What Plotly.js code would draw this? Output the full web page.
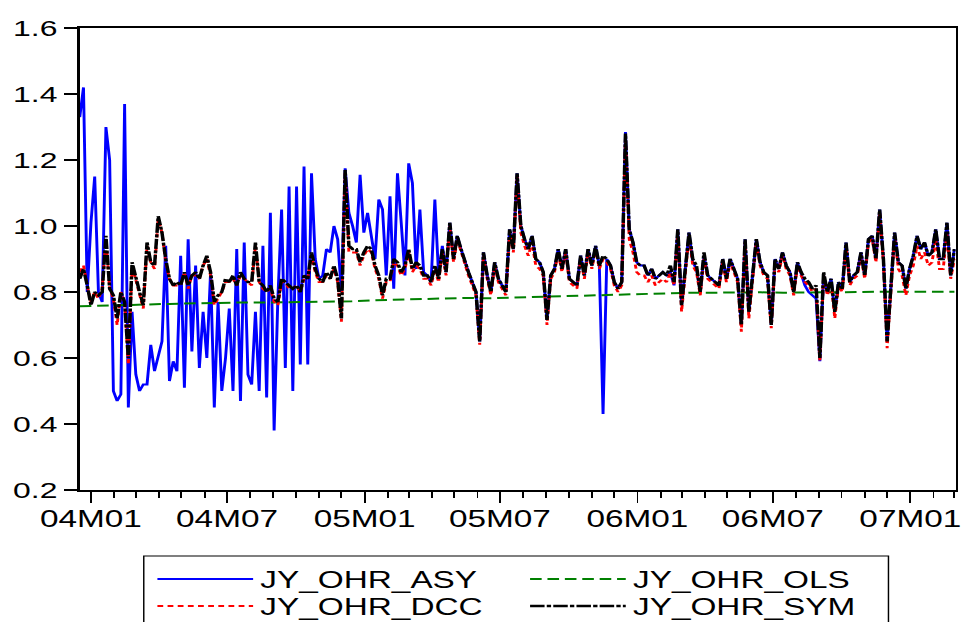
<!DOCTYPE html>
<html><head><meta charset="utf-8">
<script src="https://cdn.plot.ly/plotly-3.0.1.min.js"></script>
<style>
html,body{margin:0;padding:0;background:#fff;overflow:hidden;width:961px;height:622px;}
#wrap{width:961px;height:622px;overflow:hidden;position:relative;}
#chart{width:663px;height:622px;transform:scaleX(1.45);transform-origin:0 0;}
</style></head><body><div id="wrap"><div id="chart"></div></div>
<script>
// samples every 5 calendar days starting at startDate
const startDate = '2003-12-17';
const stepDays = 5;

const symValues = [
0.84,0.87,0.82,0.76,0.80,0.79,0.80,0.97,0.81,0.79,
0.72,0.80,0.77,0.60,0.89,0.84,0.80,0.76,0.95,0.89,
0.88,1.03,0.98,0.90,0.84,0.82,0.83,0.82,0.86,0.82,
0.85,0.86,0.84,0.88,0.91,0.86,0.77,0.79,0.80,0.84,
0.83,0.85,0.82,0.86,0.84,0.83,0.83,0.95,0.83,0.82,
0.80,0.82,0.78,0.77,0.84,0.83,0.82,0.81,0.82,0.80,
0.85,0.84,0.92,0.87,0.84,0.83,0.86,0.84,0.88,0.84,
0.72,1.17,0.94,0.93,0.93,0.89,0.92,0.94,0.93,0.88,
0.85,0.79,0.84,0.84,0.90,0.89,0.86,0.88,0.93,0.87,
0.89,0.88,0.85,0.85,0.83,0.88,0.84,0.93,0.86,1.01,
0.90,0.97,0.93,0.89,0.86,0.83,0.80,0.65,0.92,0.85,
0.80,0.89,0.84,0.82,0.80,0.99,0.93,1.16,1.00,0.96,
0.93,0.97,0.90,0.89,0.86,0.715,0.85,0.87,0.93,0.87,
0.93,0.84,0.83,0.82,0.91,0.85,0.93,0.88,0.94,0.88,
0.91,0.90,0.88,0.83,0.81,0.83,1.28,0.99,0.95,0.89,
0.88,0.88,0.85,0.87,0.84,0.85,0.86,0.85,0.88,0.83,
0.99,0.76,0.87,0.98,0.90,0.88,0.80,0.92,0.85,0.84,
0.83,0.82,0.90,0.84,0.90,0.87,0.84,0.70,0.96,0.74,
0.85,0.96,0.89,0.86,0.85,0.70,0.90,0.87,0.92,0.88,
0.86,0.80,0.89,0.86,0.84,0.83,0.81,0.82,0.60,0.86,
0.80,0.84,0.74,0.83,0.81,0.95,0.83,0.85,0.86,0.92,
0.85,0.96,0.97,0.90,1.05,0.90,0.65,0.82,0.98,0.89,
0.88,0.81,0.87,0.91,0.97,0.93,0.95,0.91,0.92,0.99,
0.90,0.90,1.01,0.85,0.93
];

const dccValues = [
0.86,0.88,0.82,0.77,0.80,0.78,0.81,0.96,0.81,0.78,
0.70,0.80,0.77,0.58,0.88,0.84,0.80,0.75,0.94,0.89,
0.87,1.02,0.98,0.89,0.84,0.82,0.82,0.82,0.86,0.81,
0.85,0.85,0.84,0.88,0.90,0.85,0.76,0.78,0.80,0.83,
0.83,0.84,0.82,0.85,0.84,0.83,0.82,0.94,0.83,0.81,
0.80,0.81,0.77,0.76,0.83,0.83,0.81,0.81,0.82,0.80,
0.84,0.84,0.91,0.86,0.83,0.83,0.85,0.84,0.87,0.83,
0.71,1.16,0.92,0.92,0.92,0.88,0.91,0.93,0.92,0.87,
0.84,0.78,0.83,0.83,0.89,0.88,0.85,0.87,0.92,0.86,
0.88,0.87,0.84,0.84,0.82,0.87,0.83,0.92,0.85,1.00,
0.89,0.96,0.92,0.88,0.85,0.82,0.79,0.64,0.91,0.84,
0.79,0.88,0.83,0.81,0.79,0.98,0.92,1.15,0.98,0.94,
0.91,0.95,0.88,0.87,0.85,0.70,0.84,0.86,0.92,0.86,
0.92,0.83,0.82,0.81,0.90,0.84,0.92,0.87,0.93,0.87,
0.90,0.89,0.87,0.82,0.80,0.82,1.27,0.96,0.92,0.86,
0.85,0.85,0.83,0.85,0.82,0.83,0.84,0.83,0.86,0.82,
0.98,0.74,0.86,0.97,0.88,0.86,0.79,0.90,0.84,0.83,
0.82,0.81,0.89,0.83,0.89,0.86,0.83,0.68,0.95,0.72,
0.84,0.95,0.88,0.85,0.84,0.69,0.89,0.86,0.91,0.87,
0.85,0.79,0.88,0.85,0.83,0.82,0.80,0.81,0.59,0.85,
0.79,0.83,0.72,0.82,0.80,0.94,0.82,0.84,0.85,0.91,
0.84,0.95,0.96,0.89,1.04,0.89,0.63,0.81,0.97,0.87,
0.85,0.79,0.85,0.88,0.94,0.90,0.92,0.88,0.89,0.96,
0.87,0.87,0.98,0.84,0.90
];

const asyValues = [
1.33,1.42,0.80,1.01,1.15,0.80,0.77,1.30,1.20,0.50,
0.47,0.49,1.37,0.45,0.74,0.55,0.50,0.52,0.52,0.64,
0.56,0.60,0.65,0.94,0.53,0.59,0.56,0.91,0.51,0.96,
0.62,0.88,0.57,0.74,0.60,0.86,0.45,0.77,0.50,0.60,
0.75,0.50,0.93,0.47,0.95,0.55,0.52,0.74,0.50,0.94,
0.48,1.04,0.38,0.78,1.05,0.57,1.12,0.50,1.12,0.58,
1.18,0.58,1.16,0.90,0.84,0.85,0.93,0.92,1.00,0.96,
0.80,1.175,1.04,1.00,0.95,1.155,0.98,1.04,0.96,0.90,
1.08,1.05,0.85,1.09,0.81,1.16,1.01,0.85,1.19,1.13,
0.87,1.05,0.86,0.85,0.83,1.08,0.85,0.94,0.86,1.01,
0.90,0.97,0.93,0.89,0.86,0.83,0.80,0.65,0.92,0.85,
0.80,0.89,0.84,0.82,0.80,0.99,0.93,1.16,1.00,0.96,
0.93,0.97,0.90,0.89,0.86,0.715,0.85,0.87,0.93,0.87,
0.93,0.84,0.83,0.82,0.91,0.85,0.93,0.88,0.94,0.88,
0.43,0.90,0.88,0.83,0.81,0.83,1.285,0.99,0.95,0.89,
0.88,0.88,0.85,0.87,0.84,0.85,0.86,0.85,0.86,0.82,
0.99,0.76,0.87,0.98,0.89,0.87,0.80,0.91,0.85,0.84,
0.83,0.82,0.90,0.84,0.90,0.87,0.84,0.70,0.96,0.74,
0.85,0.96,0.89,0.86,0.85,0.70,0.90,0.87,0.92,0.88,
0.86,0.80,0.89,0.85,0.82,0.80,0.79,0.78,0.59,0.85,
0.80,0.84,0.74,0.83,0.81,0.95,0.83,0.85,0.86,0.92,
0.85,0.96,0.97,0.90,1.05,0.90,0.65,0.82,0.98,0.89,
0.88,0.81,0.87,0.91,0.97,0.93,0.95,0.91,0.92,0.99,
0.90,0.90,1.01,0.85,0.93
];

const olsDates = [
'2003-12-17','2004-01-15','2004-02-15','2004-03-15','2004-04-15','2004-05-15','2004-06-15',
'2004-07-15','2004-08-15','2004-09-15','2004-10-15','2004-11-15','2004-12-15',
'2005-01-15','2005-02-15','2005-03-15','2005-04-15','2005-05-15','2005-06-15',
'2005-07-15','2005-08-15','2005-09-15','2005-10-15','2005-11-15','2005-12-15',
'2006-01-15','2006-02-15','2006-03-15','2006-04-15','2006-05-15','2006-06-15',
'2006-07-15','2006-08-15','2006-09-15','2006-10-15','2006-11-15','2006-12-15',
'2007-01-15','2007-02-15','2007-03-01'
];
const olsValues = [
0.757,0.758,0.760,0.762,0.764,0.766,0.767,
0.768,0.768,0.769,0.769,0.771,0.772,
0.775,0.777,0.778,0.780,0.782,0.781,
0.783,0.785,0.787,0.789,0.791,0.794,
0.796,0.797,0.798,0.798,0.799,0.799,
0.798,0.799,0.800,0.800,0.800,0.801,
0.801,0.801,0.801
];

const tickDates = ['2004-01-01','2004-07-01','2005-01-01','2005-07-01','2006-01-01','2006-07-01','2007-01-01'];
const tickLabels = ['04M01','04M07','05M01','05M07','06M01','06M07','07M01'];
const yTicks = [0.2,0.4,0.6,0.8,1.0,1.2,1.4,1.6];
const yLabels = ['0.2','0.4','0.6','0.8','1.0','1.2','1.4','1.6'];

const names = ['JY_OHR_ASY','JY_OHR_OLS','JY_OHR_DCC','JY_OHR_SYM'];

const dates = symValues.map((_, i) => {
  const d = new Date(startDate + 'T00:00:00Z');
  d.setUTCDate(d.getUTCDate() + i * stepDays);
  return d.toISOString().slice(0, 10);
});

const traces = [
  {x: dates, y: asyValues, name: names[0], type: 'scatter', mode: 'lines', legend: 'legend',
   line: {color: '#0000FF', width: 2}},
  {x: olsDates, y: olsValues, name: names[1], type: 'scatter', mode: 'lines', legend: 'legend',
   line: {color: '#008000', width: 2, dash: '8px,4px'}},
  {x: dates, y: dccValues, name: names[2], type: 'scatter', mode: 'lines', legend: 'legend2',
   line: {color: '#FF0000', width: 2, dash: '4px,3px'}},
  {x: dates, y: symValues, name: names[3], type: 'scatter', mode: 'lines', legend: 'legend2',
   line: {color: '#000000', width: 2.4, dash: '10px,1.5px,3px,1.5px'}}
];

const legendCommon = {
  orientation: 'h', xanchor: 'left', yanchor: 'middle',
  borderwidth: 0, bgcolor: 'rgba(0,0,0,0)',
  font: {size: 23, color: '#000'},
  itemwidth: 66, entrywidth: 176, entrywidthmode: 'pixels',
  traceorder: 'normal', tracegroupgap: 0
};

const layout = {
  width: 663, height: 622,
  margin: {l: 55.2, r: 4.4, t: 28, b: 132, autoexpand: false},
  paper_bgcolor: '#ffffff', plot_bgcolor: '#ffffff',
  font: {family: '"Liberation Sans", Arial, sans-serif', color: '#000000', size: 23},
  showlegend: true,
  xaxis: {
    type: 'date', range: ['2003-12-17', '2007-03-02 12:00'],
    tickmode: 'array', tickvals: tickDates, ticktext: tickLabels,
    ticks: 'outside', ticklen: 11, tickwidth: 1.3, tickcolor: '#000',
    showline: true, linecolor: '#000', linewidth: 2, mirror: true,
    showgrid: false, zeroline: false,
    tickfont: {size: 23}, ticklabelstandoff: -4,
    minor: {ticks: 'outside', ticklen: 6, tickwidth: 1.3, tickcolor: '#000',
            tickmode: 'linear', tick0: '2004-01-01', dtick: 'M1', showgrid: false}
  },
  yaxis: {
    range: [0.2, 1.6], tickmode: 'array', tickvals: yTicks, ticktext: yLabels,
    ticks: 'outside', ticklen: 9, tickwidth: 2, tickcolor: '#000',
    showline: true, linecolor: '#000', linewidth: 2, mirror: true,
    showgrid: false, zeroline: false,
    tickfont: {size: 22}
  },
  legend: Object.assign({}, legendCommon, {x: 0.0804, y: -0.1926}),
  legend2: Object.assign({}, legendCommon, {x: 0.0804, y: -0.2511}),
  shapes: [
    {type: 'rect', xref: 'paper', yref: 'paper', x0: 0.0731, x1: 0.9234, y0: -0.1429, y1: -0.40,
     line: {color: '#000', width: 1}, fillcolor: 'rgba(0,0,0,0)', layer: 'below'}
  ]
};

Plotly.newPlot('chart', traces, layout, {staticPlot: true, displayModeBar: false});
</script>
</body></html>
